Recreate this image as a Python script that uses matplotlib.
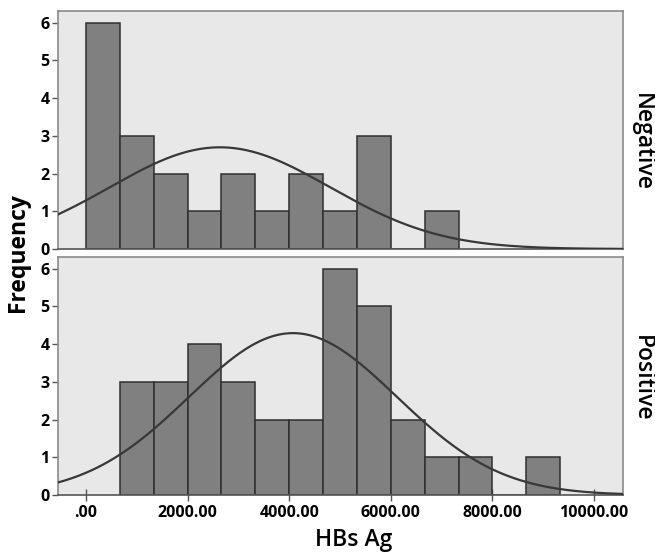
import numpy as np
import matplotlib
matplotlib.use("Agg")
import matplotlib.pyplot as plt

# Data
bin_width = 666.67
neg_bin_starts = [0, 666.67, 1333.33, 2000, 2666.67, 3333.33, 4000, 4666.67, 5333.33, 6000, 6666.67]
neg_counts = [6, 3, 2, 1, 2, 1, 2, 1, 3, 0, 1]
pos_bin_starts = [666.67, 1333.33, 2000, 2666.67, 3333.33, 4000, 4666.67, 5333.33, 6000, 6666.67, 7333.33, 8000, 8666.67]
pos_counts = [3, 3, 4, 3, 2, 2, 6, 5, 2, 1, 1, 0, 1]
neg_mean, neg_sd = 2636, 2170
pos_mean, pos_sd = 4075, 2045
panel_labels = ["Negative", "Positive"]
x_ticks = [0, 2000, 4000, 6000, 8000, 10000]
x_tick_labels = [".00", "2000.00", "4000.00", "6000.00", "8000.00", "10000.00"]
y_ticks = [0, 1, 2, 3, 4, 5, 6]

plt.rcParams['font.family'] = ['Open Sans', 'DejaVu Sans']

fig = plt.figure(figsize=(6.55, 5.56), dpi=100)
fig.patch.set_facecolor('white')
left, width = 58 / 655, 565 / 655
h = 238 / 556
ax1 = fig.add_axes([left, 1 - 249 / 556, width, h])
ax2 = fig.add_axes([left, 1 - 495 / 556, width, h])

xmin, xmax = -551, 10571
xs = np.linspace(xmin, xmax, 500)

for ax, starts, counts, mu, sd, lab, ly in [
    (ax1, neg_bin_starts, neg_counts, neg_mean, neg_sd, panel_labels[0], 0.45),
    (ax2, pos_bin_starts, pos_counts, pos_mean, pos_sd, panel_labels[1], 0.49),
]:
    ax.set_facecolor('#e8e8e8')
    ax.bar(starts, counts, width=bin_width, align='edge', color='#808080',
           edgecolor='#2f2f2f', linewidth=1.1, zorder=2)
    n = sum(counts)
    curve = n * bin_width / (sd * np.sqrt(2 * np.pi)) * np.exp(-0.5 * ((xs - mu) / sd) ** 2)
    ax.plot(xs, curve, color='#383838', linewidth=1.6, zorder=3)
    ax.set_xlim(xmin, xmax)
    ax.set_ylim(0, 6.31)
    ax.set_yticks(y_ticks)
    ax.set_yticklabels([str(t) for t in y_ticks], fontsize=11.5, fontweight='bold')
    for s in ax.spines.values():
        s.set_color('#8a8a8a')
        s.set_linewidth(1.2)
    ax.spines['bottom'].set_color('#555555')
    ax.tick_params(axis='y', length=4, width=1, color='#555555', pad=2)
    ax.text(1.013, ly, lab, transform=ax.transAxes, rotation=-90,
            ha='left', va='center', fontsize=16.5, fontweight='semibold')

ax1.set_xticks([])
ax2.set_xticks(x_ticks)
ax2.set_xticklabels(x_tick_labels, fontsize=11.5, fontweight='bold')
ax2.tick_params(axis='x', direction='inout', length=9, width=1, color='#555555', pad=3)

fig.text(354 / 655, 1 - 540 / 556, "HBs Ag", ha='center', va='center',
         fontsize=16.5, fontweight='semibold')
fig.text(0.028, 0.545, "Frequency", rotation=90, ha='center', va='center',
         fontsize=16.5, fontweight='bold')

fig.savefig("out.png", dpi=100)
